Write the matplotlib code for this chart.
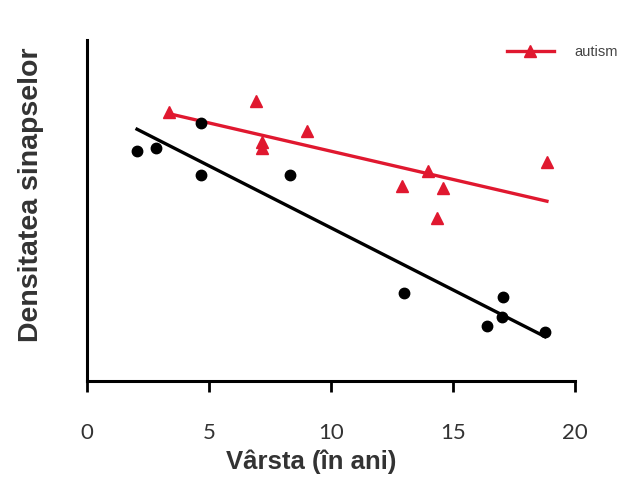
import numpy as np
import matplotlib
matplotlib.use("Agg")
from matplotlib import pyplot as plt

# control group (black dots)
ctrl_age = [2.05, 2.83, 4.67, 4.67, 8.32, 12.99, 16.39, 17.05, 17.0, 18.77]
ctrl_density = [67.4, 68.3, 75.7, 60.4, 60.4, 25.8, 16.1, 24.6, 18.8, 14.4]

# autism group (red triangles)
aut_age = [3.36, 6.93, 7.17, 7.17, 9.02, 12.91, 13.98, 14.59, 14.34, 18.85]
aut_density = [78.9, 82.1, 70.1, 68.3, 73.3, 57.2, 61.6, 56.6, 47.8, 64.2]

x_ticks = [0, 5, 10, 15, 20]

red = '#e0182f'
plt.rcParams['font.family'] = ['Lato', 'DejaVu Sans']

fig = plt.figure(figsize=(6.41, 4.79), dpi=100)
ax = fig.add_axes([87 / 641, 98 / 479, 488 / 641, 341 / 479])

# regression lines
for age, dens, col in [(ctrl_age, ctrl_density, 'black'), (aut_age, aut_density, red)]:
    a, b = np.polyfit(age, dens, 1)
    xs = np.array([min(age), max(age)])
    ax.plot(xs, a * xs + b, color=col, lw=2.4, zorder=2)

ax.plot(ctrl_age, ctrl_density, 'o', color='black', ms=7.5, zorder=3)
ax.plot(aut_age, aut_density, '^', color=red, ms=9, zorder=3)

# legend proxy
ax.plot([], [], color=red, marker='^', ms=8, lw=2.4, label='autism')
fig.legend(loc='center left', bbox_to_anchor=(494 / 641, 1 - 52 / 479), frameon=False,
           handlelength=3.2, handletextpad=1.4, labelcolor='#444444',
           prop={'family': 'Liberation Sans', 'size': 10.5})

ax.set_xlim(0, 20)
ax.set_ylim(0, 100)
ax.set_xticks(x_ticks)
ax.set_yticks([])
ax.tick_params(axis='x', direction='out', length=8, width=2, pad=22, labelsize=16,
               labelcolor='#333333')
for s in ['top', 'right']:
    ax.spines[s].set_visible(False)
for s in ['left', 'bottom']:
    ax.spines[s].set_linewidth(2.2)

ax.set_xlabel('Vârsta (în ani)', fontsize=18.5, fontweight='bold', color='#333333',
              family='Liberation Sans')
ax.xaxis.set_label_coords(0.459, -0.2)
ax.set_ylabel('Densitatea sinapselor', fontsize=20.5, fontweight='bold', color='#333333',
              family='Liberation Sans')
ax.yaxis.set_label_coords(-0.088, 0.545)

plt.savefig('out.png', dpi=100)
